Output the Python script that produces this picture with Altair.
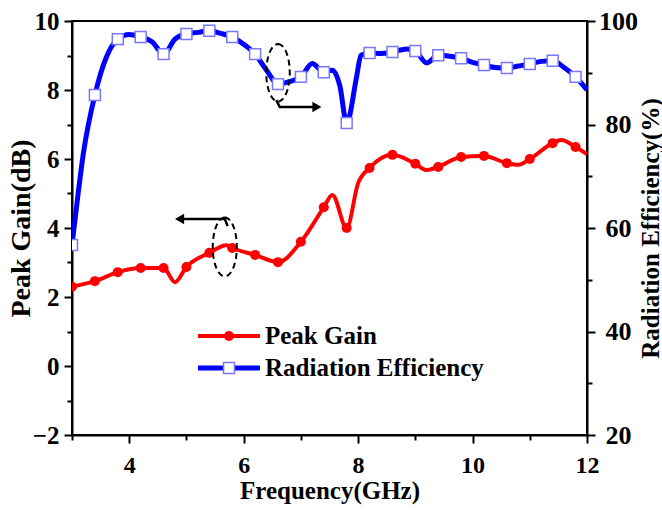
import math
import altair as alt
import pandas as pd

# ---- data ----
# Radiation efficiency curve (%), right axis
eff_f = [3.0, 3.1, 3.2, 3.4, 3.6, 3.8, 4.0, 4.2, 4.4, 4.6, 4.8, 5.0, 5.2, 5.4, 5.6, 5.8,
         6.0, 6.2, 6.4, 6.6, 6.8, 7.0, 7.2, 7.4, 7.55, 7.68, 7.8, 7.97, 8.05, 8.2, 8.4,
         8.6, 8.85, 9.0, 9.2, 9.4, 9.6, 9.8, 10.0, 10.2, 10.4, 10.6, 10.8, 11.0, 11.2,
         11.4, 11.6, 11.8, 12.0]
eff_v = [56.7, 66.0, 74.5, 85.7, 93.0, 96.5, 97.4, 96.9, 96.0, 93.6, 96.5, 97.5, 97.8, 98.1,
         97.6, 96.9, 95.5, 93.6, 90.5, 87.8, 88.3, 89.2, 91.8, 90.1, 90.5, 87.5, 80.3, 89.0,
         93.4, 93.8, 93.7, 94.0, 94.6, 94.2, 91.9, 93.4, 93.2, 92.8, 92.0, 91.5, 91.0, 90.9,
         91.3, 91.7, 92.2, 92.3, 91.0, 89.2, 86.7]

# Peak gain curve (dB), left axis
gain_f = [3.0, 3.4, 3.8, 4.2, 4.6, 4.8, 5.0, 5.4, 5.7, 5.8, 6.2, 6.6, 7.0, 7.4, 7.55, 7.8,
          8.0, 8.2, 8.6, 9.0, 9.2, 9.4, 9.8, 10.2, 10.6, 10.8, 11.0, 11.4, 11.55, 11.8, 12.0]
gain_v = [2.30, 2.46, 2.72, 2.84, 2.84, 2.43, 2.87, 3.28, 3.50, 3.42, 3.22, 3.01, 3.60, 4.60,
          4.96, 4.00, 5.30, 5.74, 6.12, 5.86, 5.68, 5.77, 6.06, 6.09, 5.88, 5.83, 6.00, 6.46,
          6.55, 6.35, 6.14]

# Marker positions
mk_f = [3.0, 3.4, 3.8, 4.2, 4.6, 5.0, 5.4, 5.8, 6.2, 6.6, 7.0, 7.4, 7.8, 8.2, 8.6, 9.0,
        9.4, 9.8, 10.2, 10.6, 11.0, 11.4, 11.8]
mk_eff = [56.7, 85.7, 96.5, 96.9, 93.6, 97.5, 98.1, 96.9, 93.6, 87.8, 89.2, 90.1, 80.3,
          93.8, 94.0, 94.2, 93.4, 92.8, 91.5, 90.9, 91.7, 92.3, 89.2]
mk_gain = [2.30, 2.46, 2.72, 2.84, 2.84, 2.87, 3.28, 3.42, 3.22, 3.01, 3.60, 4.60, 4.00,
           5.74, 6.12, 5.86, 5.77, 6.06, 6.09, 5.88, 6.00, 6.46, 6.35]

legend_labels = ["Peak Gain", "Radiation Efficiency"]
x_ticks = [3, 4, 5, 6, 7, 8, 9, 10, 11, 12]
gain_ticks = [-2, -1, 0, 1, 2, 3, 4, 5, 6, 7, 8, 9, 10]
eff_ticks = [20, 30, 40, 50, 60, 70, 80, 90, 100]

# annotation: dashed ellipses and arrows
ell_eff = {"f": 6.6, "v": 90.0}
ell_gain = {"f": 5.67, "v": 3.45}
arrow_eff_f = [6.57, 6.63, 7.28]
arrow_eff_v = [84.7, 83.4, 83.4]
arrow_gain_f = [5.72, 5.67, 4.88]
arrow_gain_v = [4.06, 4.26, 4.26]

FONT = "Liberation Serif"
RED = "#ff0000"
BLUE = "#0000ff"

# ellipse symbol shape (unit box)
pts = []
for i in range(48):
    t = 2 * math.pi * i / 48
    pts.append(f"{0.41 * math.sin(t):.3f},{-math.cos(t):.3f}")
ELLIPSE = "M" + "L".join(pts) + "Z"

x_axis = alt.Axis(
    values=x_ticks,
    labelExpr="datum.value % 2 == 0 ? datum.label : ''",
    tickSize={"condition": {"test": "datum.value % 2 != 0", "value": 5}, "value": 8},
    title="Frequency(GHz)", titleY=63, titleBaseline="alphabetic", titleFontSize=25,
    labelPadding=10, labelFontSize=24,
)
x_enc = alt.X("f:Q", scale=alt.Scale(domain=[3, 12], nice=False, zero=False), axis=x_axis)

gain_axis = alt.Axis(
    values=gain_ticks, orient="left",
    labelExpr="datum.value % 2 == 0 ? datum.label : ''",
    tickSize={"condition": {"test": "datum.value % 2 != 0", "value": 5}, "value": 8},
    title="Peak Gain(dB)", titleAngle=270, titleX=-43, titleY=207, titleFontSize=28,
    titleBaseline="alphabetic", labelPadding=5, labelFontSize=25,
)
eff_axis = alt.Axis(
    values=eff_ticks, orient="right",
    labelExpr="datum.value % 20 == 0 ? datum.label : ''",
    tickSize={"condition": {"test": "datum.value % 20 != 0", "value": 5}, "value": 8},
    title="Radiation Efficiency(%)", titleAngle=270, titleX=71, titleY=207,
    titleFontSize=25, titleBaseline="alphabetic",
    labelAlign="center", labelPadding=23, labelFontSize=26,
)
gain_y = alt.Y("v:Q", scale=alt.Scale(domain=[-2, 10], nice=False, zero=False), axis=gain_axis)
eff_y = alt.Y("v:Q", scale=alt.Scale(domain=[20, 100], nice=False, zero=False), axis=eff_axis)

df_eff = pd.DataFrame({"f": eff_f, "v": eff_v})
df_gain = pd.DataFrame({"f": gain_f, "v": gain_v})
df_mk_eff = pd.DataFrame({"f": mk_f, "v": mk_eff})
df_mk_gain = pd.DataFrame({"f": mk_f, "v": mk_gain})
df_arr_eff = pd.DataFrame({"f": arrow_eff_f, "v": arrow_eff_v, "o": [0, 1, 2]})
df_arr_gain = pd.DataFrame({"f": arrow_gain_f, "v": arrow_gain_v, "o": [0, 1, 2]})
df_head_eff = pd.DataFrame({"f": [arrow_eff_f[-1]], "v": [arrow_eff_v[-1]]})
df_head_gain = pd.DataFrame({"f": [arrow_gain_f[-1]], "v": [arrow_gain_v[-1]]})
df_ell_eff = pd.DataFrame([ell_eff])
df_ell_gain = pd.DataFrame([ell_gain])

# ---- left (gain) group ----
gain_line = alt.Chart(df_gain).mark_line(
    color=RED, strokeWidth=4, interpolate="monotone", clip=True
).encode(x=x_enc, y=gain_y)
gain_pts = alt.Chart(df_mk_gain).mark_point(
    shape="circle", filled=True, color=RED, size=100, opacity=1, clip=True
).encode(x=x_enc, y=gain_y)
gain_arrow = alt.Chart(df_arr_gain).mark_line(
    color="black", strokeWidth=2.5
).encode(x=x_enc, y=gain_y, order="o:Q")
gain_head = alt.Chart(df_head_gain).mark_point(
    shape="triangle-left", filled=True, color="black", size=110, opacity=1
).encode(x=x_enc, y=gain_y)
gain_ell = alt.Chart(df_ell_gain).mark_point(
    shape=ELLIPSE, filled=False, stroke="black", strokeWidth=2, strokeDash=[6, 4],
    size=3460, opacity=1
).encode(x=x_enc, y=gain_y)

legend_layers = []
for i, (lab, col) in enumerate(zip(legend_labels, [RED, BLUE])):
    ypix = 315 + 32 * i
    ldf = pd.DataFrame({"label": [lab]})
    base = alt.Chart(ldf)
    legend_layers.append(base.mark_rule(color=col, strokeWidth=4 if i == 0 else 5).encode(
        x=alt.value(126), x2=alt.value(188), y=alt.value(ypix)))
    if i == 0:
        legend_layers.append(base.mark_point(shape="circle", filled=True, color=RED,
                                             size=100, opacity=1).encode(
            x=alt.value(157), y=alt.value(ypix)))
    else:
        legend_layers.append(base.mark_point(shape="square", filled=True, fill="white",
                                             stroke="#7878ff", strokeWidth=1.5,
                                             size=120, opacity=1).encode(
            x=alt.value(157), y=alt.value(ypix)))
    legend_layers.append(base.mark_text(
        align="left", baseline="middle", font=FONT, fontSize=25, fontWeight="bold",
        color="black").encode(x=alt.value(193), y=alt.value(ypix), text="label:N"))

left = alt.layer(gain_line, gain_pts, gain_arrow, gain_head, gain_ell, *legend_layers)

# ---- right (efficiency) group ----
eff_line = alt.Chart(df_eff).mark_line(
    color=BLUE, strokeWidth=5, interpolate="monotone", clip=True
).encode(x=x_enc, y=eff_y)
eff_pts = alt.Chart(df_mk_eff).mark_point(
    shape="square", filled=True, fill="white", stroke="#7878ff", strokeWidth=1.5,
    size=120, opacity=1, clip=True
).encode(x=x_enc, y=eff_y)
eff_arrow = alt.Chart(df_arr_eff).mark_line(
    color="black", strokeWidth=2.5
).encode(x=x_enc, y=eff_y, order="o:Q")
eff_head = alt.Chart(df_head_eff).mark_point(
    shape="triangle-right", filled=True, color="black", size=110, opacity=1
).encode(x=x_enc, y=eff_y)
eff_ell = alt.Chart(df_ell_eff).mark_point(
    shape=ELLIPSE, filled=False, stroke="black", strokeWidth=2, strokeDash=[6, 4],
    size=3300, opacity=1
).encode(x=x_enc, y=eff_y)

right = alt.layer(eff_line, eff_pts, eff_arrow, eff_head, eff_ell)

chart = alt.layer(left, right).resolve_scale(y="independent").properties(
    width=515, height=414,
    padding={"left": 72, "top": 21, "right": 75, "bottom": 76},
    autosize=alt.AutoSizeParams(type="none"),
    background="white",
).configure_view(
    stroke="black", strokeWidth=2
).configure_axis(
    grid=False, domainColor="black", domainWidth=2, tickColor="black", tickWidth=2,
    labelFont=FONT, labelFontSize=22, labelFontWeight="bold", labelColor="black",
    titleFont=FONT, titleFontSize=22, titleFontWeight="bold", titleColor="black",
    labelFlush=False, labelOverlap=False,
)

chart.save("out.html", embed_options={"renderer": "svg", "actions": False})
